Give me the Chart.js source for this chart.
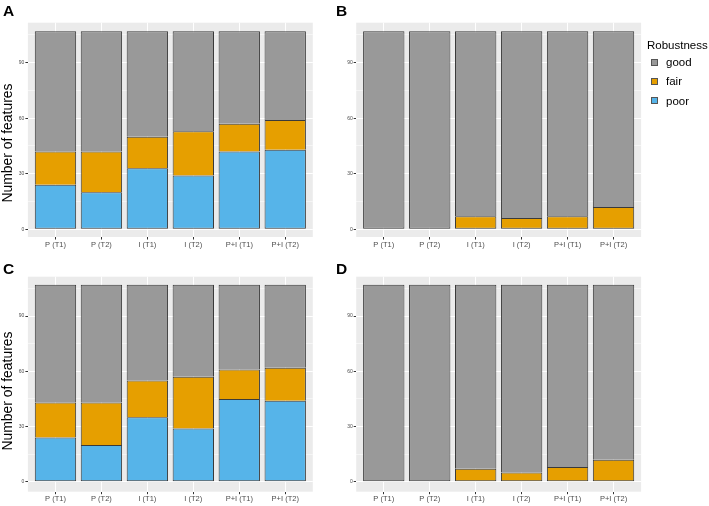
<!DOCTYPE html>
<html>
<head>
<meta charset="utf-8">
<script src="https://cdn.jsdelivr.net/npm/chart.js@4.4.1/dist/chart.umd.min.js"></script>
<style>
  body { margin: 0; background: #fff; width: 709px; height: 506px; position: relative; overflow: hidden;
         font-family: "Liberation Sans", Arial, Helvetica, sans-serif; }
  canvas { position: absolute; }
  .tag { position: absolute; font-weight: bold; font-size: 15.5px; line-height: 15.5px; color: #000; }
  .ytitle { position: absolute; width: 200px; text-align: center; font-size: 13.9px; line-height: 14px;
            color: #000; transform: rotate(-90deg); white-space: nowrap; }
  .legend-title { position: absolute; left: 647px; top: 38px; font-size: 11.5px; line-height: 14px; color: #000; }
  .key { position: absolute; left: 651px; width: 7px; height: 7px; box-sizing: border-box; border: 1px solid #555; }
  .key-label { position: absolute; left: 666px; font-size: 11.5px; line-height: 14px; color: #000; }
</style>
</head>
<body>
<canvas id="chartA" width="320" height="252" style="left:0;top:0"></canvas>
<canvas id="chartB" width="320" height="252" style="left:330px;top:0"></canvas>
<canvas id="chartC" width="320" height="254" style="left:0;top:252px"></canvas>
<canvas id="chartD" width="320" height="254" style="left:330px;top:252px"></canvas>

<div class="tag" style="left:3px;top:2.5px">A</div>
<div class="tag" style="left:336px;top:2.5px">B</div>
<div class="tag" style="left:3px;top:260.5px">C</div>
<div class="tag" style="left:336px;top:260.5px">D</div>

<div class="ytitle" style="left:-93.3px;top:136px">Number of features</div>
<div class="ytitle" style="left:-93.3px;top:384px">Number of features</div>

<div class="legend-title">Robustness</div>
<div class="key" style="top:58.5px;background:#999999"></div>
<div class="key-label" style="top:55px">good</div>
<div class="key" style="top:77.8px;background:#E69F00"></div>
<div class="key-label" style="top:74.3px">fair</div>
<div class="key" style="top:97.2px;background:#56B4E9"></div>
<div class="key-label" style="top:93.7px">poor</div>

<script>
// Robustness of features - four stacked bar panels (ggplot look)

const categories = ['P (T1)', 'P (T2)', 'I (T1)', 'I (T2)', 'P+I (T1)', 'P+I (T2)'];
const yTicks = [0, 30, 60, 90];
const yMinor = [15, 45, 75, 105];

// Panel A
const poorA = [24, 20, 33, 29, 42, 43];
const fairA = [18, 22, 17, 24, 15, 16];
const goodA = [65, 65, 57, 54, 50, 48];

// Panel B
const poorB = [0, 0, 0, 0, 0, 0];
const fairB = [0, 0, 7, 6, 7, 12];
const goodB = [107, 107, 100, 101, 100, 95];

// Panel C
const poorC = [24, 20, 35, 29, 45, 44];
const fairC = [19, 23, 20, 28, 16, 18];
const goodC = [64, 64, 52, 50, 46, 45];

// Panel D
const poorD = [0, 0, 0, 0, 0, 0];
const fairD = [0, 0, 7, 5, 8, 12];
const goodD = [107, 107, 100, 102, 99, 95];

const COLORS = { good: '#999999', fair: '#E69F00', poor: '#56B4E9' };
const PANEL_BG = '#EBEBEB';

Chart.defaults.font.family = "'Liberation Sans', Arial, Helvetica, sans-serif";

// grey panel behind the grid
const panelBg = {
    id: 'panelBg',
    beforeDraw(chart) {
        const { ctx, chartArea: a } = chart;
        ctx.save();
        ctx.fillStyle = PANEL_BG;
        ctx.fillRect(a.left, a.top, a.right - a.left, a.bottom - a.top);
        ctx.restore();
    }
};

// skip the bottom edge when a segment sits on another one, so shared edges are a single line
function skipEdge(c) {
    const below = c.chart.data.datasets.slice(0, c.datasetIndex)
        .some(d => d.data[c.dataIndex] && d.data[c.dataIndex].y);
    return below ? 'bottom' : false;
}

function makePanel(id, poor, fair, good, g) {
    const toXY = arr => arr.map((v, i) => ({ x: i, y: v }));
    const ds = (label, arr, color) => ({
        label,
        data: toXY(arr),
        backgroundColor: color,
        borderColor: '#3a3a3a',
        borderWidth: c => (c.raw && c.raw.y ? 1 : 0),
        borderSkipped: skipEdge,
        barPercentage: 0.9,
        categoryPercentage: 1
    });

    return new Chart(document.getElementById(id), {
        type: 'bar',
        data: {
            datasets: [
                ds('poor', poor, COLORS.poor),
                ds('fair', fair, COLORS.fair),
                ds('good', good, COLORS.good)
            ]
        },
        options: {
            responsive: false,
            animation: false,
            events: [],
            layout: { padding: { left: 0, top: g.padTop, right: g.padRight, bottom: 0 } },
            plugins: { legend: { display: false }, tooltip: { enabled: false } },
            scales: {
                x: {
                    type: 'linear',
                    stacked: true,
                    offset: false,
                    min: -0.6, max: 5.6,
                    afterBuildTicks: s => { s.ticks = categories.map((_, i) => ({ value: i })); },
                    afterFit: s => { s.height = g.xAxisH; },
                    ticks: {
                        callback: v => categories[v],
                        color: '#4D4D4D',
                        font: { size: 7.5 },
                        padding: 0.5,
                        maxRotation: 0,
                        autoSkip: false
                    },
                    grid: { offset: false, color: '#FFFFFF', lineWidth: 1, tickColor: '#333333', tickLength: 2.5 },
                    border: { display: false }
                },
                y: {
                    stacked: true,
                    min: g.yMin, max: g.yMax,
                    afterBuildTicks: s => {
                        s.ticks = yTicks.concat(yMinor).sort((a, b) => a - b).map(v => ({ value: v }));
                    },
                    afterFit: s => { s.width = g.yAxisW; },
                    ticks: {
                        callback: v => (yTicks.includes(v) ? v : ''),
                        color: '#4D4D4D',
                        font: { size: 5 },
                        padding: 1
                    },
                    grid: {
                        color: '#FFFFFF',
                        lineWidth: c => (yTicks.includes(c.tick.value) ? 1 : 0.5),
                        tickColor: c => (yTicks.includes(c.tick.value) ? '#333333' : 'rgba(0,0,0,0)'),
                        tickLength: 2.5
                    },
                    border: { display: false }
                }
            }
        },
        plugins: [panelBg]
    });
}

const topRow = { padTop: 22.7, xAxisH: 15, yMin: -4.2, yMax: 111.6 };
const bottomRow = { padTop: 24.7, xAxisH: 14.3, yMin: -5.4, yMax: 111.4 };

makePanel('chartA', poorA, fairA, goodA, { ...topRow, yAxisW: 27.9, padRight: 7.2 });
makePanel('chartB', poorB, fairB, goodB, { ...topRow, yAxisW: 26.2, padRight: 8.9 });
makePanel('chartC', poorC, fairC, goodC, { ...bottomRow, yAxisW: 27.9, padRight: 7.2 });
makePanel('chartD', poorD, fairD, goodD, { ...bottomRow, yAxisW: 26.2, padRight: 8.9 });
</script>
</body>
</html>
